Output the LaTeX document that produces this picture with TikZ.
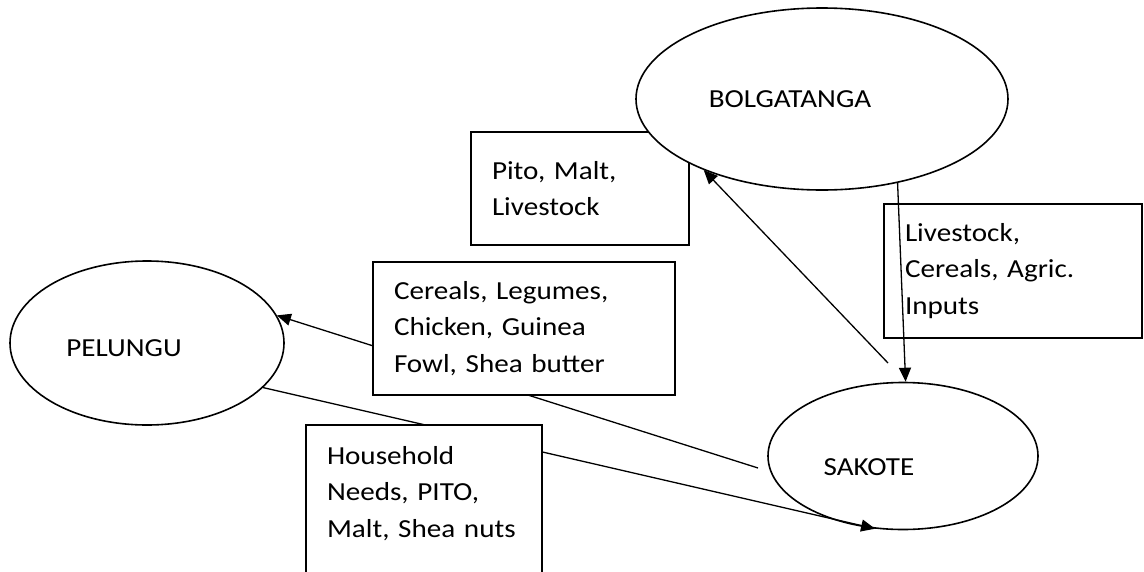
\documentclass[tikz,border=0pt]{standalone}
\usepackage{fontspec}
\setmainfont{Carlito}[FakeStretch=1.12]
\usetikzlibrary{shapes.geometric,arrows.meta}

\begin{document}
\frenchspacing
\begin{tikzpicture}[
    x=1pt, y=-1pt,
    font=\fontsize{26}{36.5}\selectfont,
    town/.style = {ellipse, draw, fill=white, line width=1.6pt, inner sep=0pt},
    goods/.style = {rectangle, draw, line width=1.6pt, inner xsep=21pt, inner ysep=0pt, align=left},
    line/.style = {draw, line width=1.3pt, -{Triangle[length=14pt,width=12pt]}}
]
\useasboundingbox (0,0) rectangle (1144,571);

\node[goods, text width=176pt, minimum height=113pt] (pito) at (580,188.5) {Pito, Malt,\\Livestock};
\node[town, minimum width=372pt, minimum height=182pt, label={[xshift=-32pt]center:BOLGATANGA}] (bolga) at (822,99) {};
\node[town, minimum width=274pt, minimum height=164pt, label={[xshift=-23pt, yshift=-5pt]center:PELUNGU}] (pelungu) at (147,343) {};
\node[town, minimum width=270pt, minimum height=147pt, label={[xshift=-34pt, yshift=-11pt]center:SAKOTE}] (sakote) at (903,456) {};

\coordinate (fromsakote) at (758,468);
\coordinate (tobolga) at (888,363);

\path[line] (fromsakote) -- (pelungu.12);
\path[line] (pelungu.-21) -- (sakote.249);

\node[goods, fill=white, text width=260pt, minimum height=133pt] (cereals) at (524,328.5) {Cereals, Legumes,\\Chicken, Guinea\\Fowl, Shea butter};
\node[goods, fill=white, text width=194pt, minimum height=170pt] (household) at (424,510) {Household\\Needs, PITO,\\Malt, Shea nuts\\ \mbox{}};
\node[goods, text width=216pt, minimum height=134pt] (livestock) at (1013,271) {Livestock,\\Cereals, Agric.\\Inputs};

\path[line] (tobolga) -- (bolga.211);
\path[line] (bolga.-48) -- (sakote.88);
\end{tikzpicture}
\end{document}
